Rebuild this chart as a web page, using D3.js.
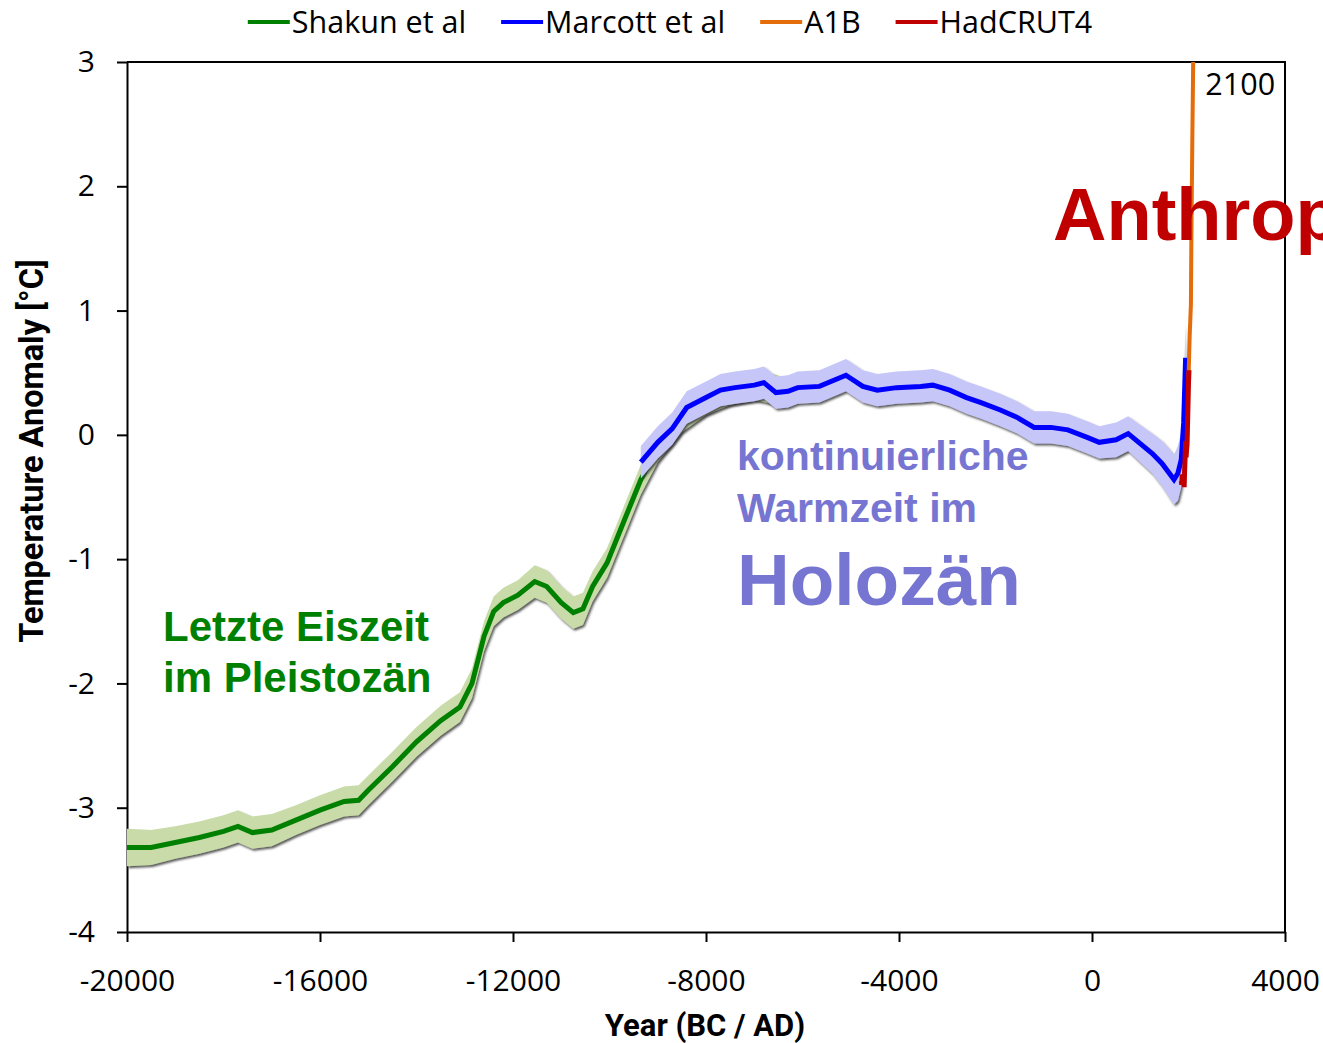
<!DOCTYPE html>
<html>
<head>
<meta charset="utf-8">
<script src="https://cdn.jsdelivr.net/npm/d3@7"></script>
<style>
  body { margin: 0; background: #fff; }
  .tick text { font-family: "Open Sans", sans-serif; font-size: 30px; fill: #000; }
  .axis path, .axis line { stroke: #000; stroke-width: 2px; }
  .axisTitle { font-family: Roboto, sans-serif; font-weight: bold; fill: #000; }
  .legendText { font-family: "Open Sans", sans-serif; font-size: 30.5px; fill: #000; }
  .note { font-family: "Liberation Sans", Arial, sans-serif; font-weight: bold; }
</style>
</head>
<body>
<div id="chart"></div>
<script>
// Shakun et al (green) - year, anomaly, half width of the band
var shakunYear = [-20000,-19500,-19000,-18500,-18000,-17700,-17400,-17000,-16500,-16000,
                  -15500,-15200,-15000,-14500,-14000,-13500,-13100,-12850,-12600,-12400,
                  -12200,-11900,-11550,-11300,-11000,-10750,-10550,-10350,-10050,-9800,
                  -9550,-9350,-9000,-8500,-8000,-7500,-7000,-6500];
var shakunTemp = [-3.32,-3.32,-3.28,-3.24,-3.19,-3.15,-3.20,-3.18,-3.10,-3.02,
                  -2.95,-2.94,-2.86,-2.67,-2.47,-2.30,-2.19,-2.00,-1.62,-1.42,
                  -1.35,-1.29,-1.18,-1.22,-1.35,-1.43,-1.40,-1.22,-1.03,-0.79,
                  -0.55,-0.36,-0.10,0.14,0.28,0.36,0.40,0.36];
var shakunErr  = [0.15,0.14,0.13,0.13,0.13,0.13,0.13,0.13,0.12,0.12,
                  0.12,0.12,0.12,0.12,0.12,0.12,0.12,0.12,0.12,0.12,
                  0.12,0.12,0.13,0.13,0.13,0.13,0.13,0.12,0.12,0.12,
                  0.12,0.12,0.12,0.12,0.12,0.12,0.12,0.12];

// Marcott et al (blue)
var marcottYear = [-9350,-9000,-8700,-8400,-8000,-7700,-7400,-7000,-6800,-6550,
                   -6300,-6100,-5650,-5100,-4750,-4450,-4050,-3550,-3300,-2950,
                   -2600,-2300,-1900,-1550,-1200,-850,-500,-100,150,500,
                   750,1000,1250,1450,1700,1780,1850,1900,1940];
var marcottTemp = [-0.22,-0.06,0.05,0.22,0.30,0.36,0.38,0.40,0.42,0.34,
                   0.35,0.38,0.39,0.48,0.39,0.36,0.38,0.39,0.40,0.36,
                   0.30,0.26,0.20,0.14,0.06,0.06,0.04,-0.02,-0.06,-0.04,
                   0.01,-0.07,-0.15,-0.23,-0.36,-0.31,-0.20,0.10,0.62];
var marcottErr  = [0.13,0.13,0.13,0.13,0.13,0.13,0.13,0.13,0.13,0.13,
                   0.13,0.13,0.13,0.13,0.13,0.13,0.13,0.13,0.13,0.13,
                   0.13,0.13,0.13,0.13,0.13,0.13,0.13,0.13,0.13,0.14,
                   0.14,0.15,0.16,0.18,0.20,0.22,0.22,0.25,0.28];

// HadCRUT4 (red)
var hadYear = [1850,1860,1870,1880,1890,1900,1910,1920,1930,1940,1950,1960,1970,1980,1990,2000,2010];
var hadTemp = [-0.37,-0.40,-0.32,-0.33,-0.38,-0.35,-0.42,-0.28,-0.18,-0.05,-0.18,-0.12,-0.08,0.08,0.25,0.42,0.52];

// A1B scenario (orange)
var a1bYear = [2000,2025,2050,2060,2080,2100];
var a1bTemp = [0.45,0.80,1.05,1.60,2.40,3.10];

var xTicks = [-20000,-16000,-12000,-8000,-4000,0,4000];
var yTicks = [-4,-3,-2,-1,0,1,2,3];

var legendNames  = ["Shakun et al", "Marcott et al", "A1B", "HadCRUT4"];
var legendColors = ["#008000", "#0000ff", "#e46c0a", "#c00000"];

// Set up sizes
var svgWidth = 1323;
var svgHeight = 1043;
var margin = { top: 62, right: 38, bottom: 111, left: 127 };
var chartWidth = svgWidth - margin.left - margin.right;
var chartHeight = svgHeight - margin.top - margin.bottom;

var svg = d3.select("#chart")
  .append("svg")
  .attr("width", svgWidth)
  .attr("height", svgHeight);

var defs = svg.append("defs");
defs.append("clipPath").attr("id", "plotClip")
  .append("rect").attr("width", chartWidth).attr("height", chartHeight);
defs.append("filter").attr("id", "shadow")
  .attr("x", "-5%").attr("y", "-5%").attr("width", "110%").attr("height", "110%")
  .append("feDropShadow")
  .attr("dx", 1.5).attr("dy", 2).attr("stdDeviation", 0.8)
  .attr("flood-color", "#333").attr("flood-opacity", 0.8);

var chartGroup = svg.append("g")
  .attr("transform", `translate(${margin.left}, ${margin.top})`);

var xScale = d3.scaleLinear().domain([-20000, 4000]).range([0, chartWidth]);
var yScale = d3.scaleLinear().domain([-4, 3]).range([chartHeight, 0]);

function zip(years, temps, errs) {
  return years.map(function(y, i) {
    return { year: y, temp: temps[i], err: errs ? errs[i] : 0 };
  });
}
var shakun = zip(shakunYear, shakunTemp, shakunErr);
var marcott = zip(marcottYear, marcottTemp, marcottErr);
var hadcrut = zip(hadYear, hadTemp);
var a1b = zip(a1bYear, a1bTemp);

var band = d3.area()
  .x(d => xScale(d.year))
  .y0(d => yScale(d.temp - d.err))
  .y1(d => yScale(d.temp + d.err));
var line = d3.line()
  .x(d => xScale(d.year))
  .y(d => yScale(d.temp));

// Axes
var bottomAxis = d3.axisBottom(xScale).tickValues(xTicks).tickSize(10).tickSizeOuter(0).tickPadding(28)
  .tickFormat(d3.format("d"));
var leftAxis = d3.axisLeft(yScale).tickValues(yTicks).tickSize(10).tickSizeOuter(0).tickPadding(22)
  .tickFormat(d3.format("d"));

chartGroup.append("g").attr("class", "axis")
  .attr("transform", `translate(0, ${chartHeight})`)
  .call(bottomAxis);
chartGroup.append("g").attr("class", "axis")
  .call(leftAxis);
chartGroup.selectAll(".tick text").text(function(d) { return String(d).replace("\u2212", "-"); });

// top and right frame
chartGroup.append("path")
  .attr("d", `M0,0H${chartWidth}V${chartHeight}`)
  .attr("fill", "none").attr("stroke", "#000").attr("stroke-width", 2);

var plot = chartGroup.append("g").attr("clip-path", "url(#plotClip)");

plot.append("path").datum(shakun)
  .attr("d", band).attr("fill", "#c8dba8").attr("filter", "url(#shadow)");
plot.append("path").datum(shakun)
  .attr("d", line).attr("fill", "none").attr("stroke", "#008000").attr("stroke-width", 5);

plot.append("path").datum(marcott)
  .attr("d", band).attr("fill", "#c6c6f8").attr("filter", "url(#shadow)");
plot.append("path").datum(marcott)
  .attr("d", line).attr("fill", "none").attr("stroke", "#0000ff").attr("stroke-width", 5);

plot.append("path").datum(a1b)
  .attr("d", line).attr("fill", "none").attr("stroke", "#e46c0a").attr("stroke-width", 4);
plot.append("path").datum(hadcrut)
  .attr("d", line).attr("fill", "none").attr("stroke", "#c00000").attr("stroke-width", 5);

// 2100 label
chartGroup.append("text")
  .attr("x", xScale(2100) + 12).attr("y", 33)
  .attr("class", "legendText").attr("font-size", 30)
  .text("2100");

// annotations
svg.append("text").attr("class", "note")
  .attr("x", 163).attr("y", 641).attr("fill", "#008000").attr("font-size", 42)
  .text("Letzte Eiszeit");
svg.append("text").attr("class", "note")
  .attr("x", 163).attr("y", 692).attr("fill", "#008000").attr("font-size", 42)
  .text("im Pleistozän");

svg.append("text").attr("class", "note")
  .attr("x", 737).attr("y", 470).attr("fill", "#7676d2").attr("font-size", 41)
  .text("kontinuierliche");
svg.append("text").attr("class", "note")
  .attr("x", 737).attr("y", 522).attr("fill", "#7676d2").attr("font-size", 41)
  .text("Warmzeit im");
svg.append("text").attr("class", "note")
  .attr("x", 737).attr("y", 605).attr("fill", "#7676d2").attr("font-size", 73)
  .text("Holozän");

// the word runs off the right edge, as in the original slide
svg.append("text").attr("class", "note")
  .attr("x", 1053).attr("y", 240).attr("fill", "#c00000").attr("font-size", 74)
  .text("Anthrop");

// axis titles
svg.append("text").attr("class", "axisTitle")
  .attr("transform", "rotate(-90)")
  .attr("x", -451).attr("y", 43)
  .attr("text-anchor", "middle").attr("font-size", 32.5)
  .text("Temperature Anomaly [°C]");
svg.append("text").attr("class", "axisTitle")
  .attr("x", 705).attr("y", 1036)
  .attr("text-anchor", "middle").attr("font-size", 31)
  .text("Year (BC / AD)");

// legend, centred over the plot
var legend = svg.append("g");
var cursor = 0;
legendNames.forEach(function(name, i) {
  var item = legend.append("g").attr("transform", `translate(${cursor}, 0)`);
  item.append("line").attr("x1", 0).attr("x2", 42).attr("y1", 22).attr("y2", 22)
    .attr("stroke", legendColors[i]).attr("stroke-width", 4);
  var t = item.append("text").attr("class", "legendText")
    .attr("x", 44).attr("y", 33).text(name);
  cursor += 44 + t.node().getComputedTextLength() + 35;
});
var legendWidth = cursor - 35;
legend.attr("transform", `translate(${670 - legendWidth / 2}, 0)`);
</script>
</body>
</html>
